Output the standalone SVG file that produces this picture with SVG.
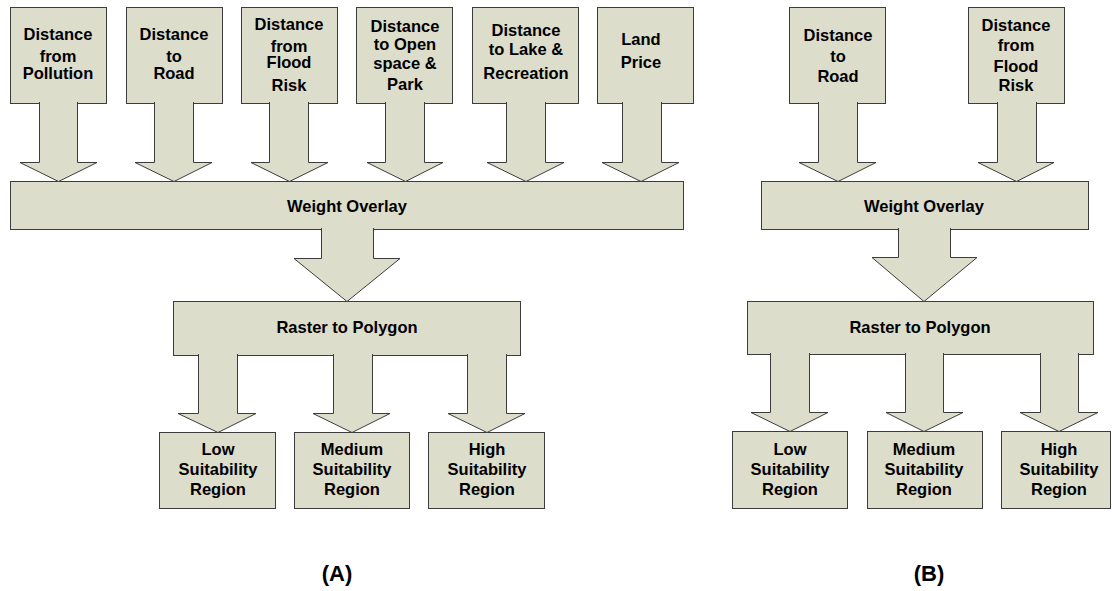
<svg xmlns="http://www.w3.org/2000/svg" width="1112" height="591" viewBox="0 0 1112 591">
<style>
.b{fill:#ddddcb;stroke:#3c3c3c;stroke-width:1}
.a{fill:#ddddcb;stroke:#3c3c3c;stroke-width:1;stroke-linejoin:miter}
text{font-family:"Liberation Sans",Arial,sans-serif;font-weight:bold;font-size:16.5px;text-anchor:middle;fill:#000}
.l{font-size:22px}
</style>
<rect width="1112" height="591" fill="#fff"/>
<!-- Panel A nodes -->
<g id="a-pollution"><rect class="b" x="10.5" y="7.5" width="96" height="96"/><text x="58" y="40">Distance</text><text x="58" y="62">from</text><text x="58" y="79">Pollution</text></g>
<g id="a-road"><rect class="b" x="126.5" y="7.5" width="96" height="96"/><text x="174" y="40">Distance</text><text x="174" y="62">to</text><text x="174" y="79">Road</text></g>
<g id="a-flood"><rect class="b" x="241.5" y="7.5" width="96" height="96"/><text x="289" y="30">Distance</text><text x="289" y="52">from</text><text x="289" y="68">Flood</text><text x="289" y="91">Risk</text></g>
<g id="a-open"><rect class="b" x="356.5" y="7.5" width="96" height="96"/><text x="405" y="32">Distance</text><text x="405" y="50">to Open</text><text x="405" y="69">space &amp;</text><text x="405" y="90">Park</text></g>
<g id="a-lake"><rect class="b" x="472.5" y="7.5" width="106" height="96"/><text x="526" y="36">Distance</text><text x="526" y="55">to Lake &amp;</text><text x="526" y="79">Recreation</text></g>
<g id="a-price"><rect class="b" x="597.5" y="7.5" width="96" height="96"/><text x="641" y="45">Land</text><text x="641" y="68">Price</text></g>
<g id="a-weight"><rect class="b" x="10.5" y="181.5" width="673" height="48"/><text x="347" y="212">Weight Overlay</text></g>
<g id="a-raster"><rect class="b" x="173.5" y="301.5" width="347" height="54"/><text x="347" y="333">Raster to Polygon</text></g>
<g id="a-low"><rect class="b" x="159.5" y="432.5" width="116" height="76"/><text x="218" y="455">Low</text><text x="218" y="475">Suitability</text><text x="218" y="495">Region</text></g>
<g id="a-medium"><rect class="b" x="294.5" y="432.5" width="115" height="76"/><text x="352" y="455">Medium</text><text x="352" y="475">Suitability</text><text x="352" y="495">Region</text></g>
<g id="a-high"><rect class="b" x="428.5" y="432.5" width="116" height="76"/><text x="487" y="455">High</text><text x="487" y="475">Suitability</text><text x="487" y="495">Region</text></g>
<!-- Panel B nodes -->
<g id="b-road"><rect class="b" x="789.5" y="7.5" width="96" height="96"/><text x="838" y="41">Distance</text><text x="838" y="62">to</text><text x="838" y="82">Road</text></g>
<g id="b-flood"><rect class="b" x="968.5" y="7.5" width="96" height="96"/><text x="1016" y="31">Distance</text><text x="1016" y="51">from</text><text x="1016" y="72">Flood</text><text x="1016" y="91">Risk</text></g>
<g id="b-weight"><rect class="b" x="761.5" y="181.5" width="327" height="48"/><text x="924" y="212">Weight Overlay</text></g>
<g id="b-raster"><rect class="b" x="747.5" y="301.5" width="346" height="53"/><text x="920" y="333">Raster to Polygon</text></g>
<g id="b-low"><rect class="b" x="732.5" y="431.5" width="115" height="77"/><text x="790" y="455">Low</text><text x="790" y="475">Suitability</text><text x="790" y="495">Region</text></g>
<g id="b-medium"><rect class="b" x="867.5" y="431.5" width="115" height="77"/><text x="924" y="455">Medium</text><text x="924" y="475">Suitability</text><text x="924" y="495">Region</text></g>
<g id="b-high"><rect class="b" x="1001.5" y="431.5" width="109" height="77"/><text x="1059" y="455">High</text><text x="1059" y="475">Suitability</text><text x="1059" y="495">Region</text></g>
<!-- connectors: block arrows -->
<g id="connectors">
<path class="a" d="M39.5,102 V162.5 H20 L58.5,181.5 L97,162.5 H77.5 V102"/>
<path class="a" d="M154.5,102 V162.5 H135 L174,181.5 L212,162.5 H193.5 V102"/>
<path class="a" d="M269.5,102 V162.5 H251 L289.5,181.5 L328,162.5 H308.5 V102"/>
<path class="a" d="M385.5,102 V162.5 H367 L405.5,181.5 L443,162.5 H424.5 V102"/>
<path class="a" d="M506.5,102 V162.5 H487 L526,181.5 L564,162.5 H545.5 V102"/>
<path class="a" d="M622.5,102 V162.5 H602 L641,181.5 L679,162.5 H661.5 V102"/>
<path class="a" d="M321.5,228 V258.5 H294 L347,301.5 L400,258.5 H373.5 V228"/>
<path class="a" d="M198.5,354 V413.5 H178 L218,432.5 L256,413.5 H237.5 V354"/>
<path class="a" d="M333.5,354 V413.5 H313 L352,432.5 L390,413.5 H372.5 V354"/>
<path class="a" d="M467.5,354 V413.5 H448 L487,432.5 L525,413.5 H506.5 V354"/>
<path class="a" d="M818.5,102 V162.5 H799 L838,181.5 L876,162.5 H857.5 V102"/>
<path class="a" d="M997.5,102 V162.5 H978 L1016.5,181.5 L1054,162.5 H1036.5 V102"/>
<path class="a" d="M898.5,228 V257.5 H872 L924,301.5 L977,257.5 H950.5 V228"/>
<path class="a" d="M770.5,353 V412.5 H751 L790,431.5 L828,412.5 H809.5 V353"/>
<path class="a" d="M905.5,353 V412.5 H886 L924,431.5 L963,412.5 H943.5 V353"/>
<path class="a" d="M1040.5,353 V412.5 H1020 L1059,431.5 L1098,412.5 H1078.5 V353"/>
</g>
<text class="l" x="337" y="581">(A)</text>
<text class="l" x="929" y="581">(B)</text>
</svg>
